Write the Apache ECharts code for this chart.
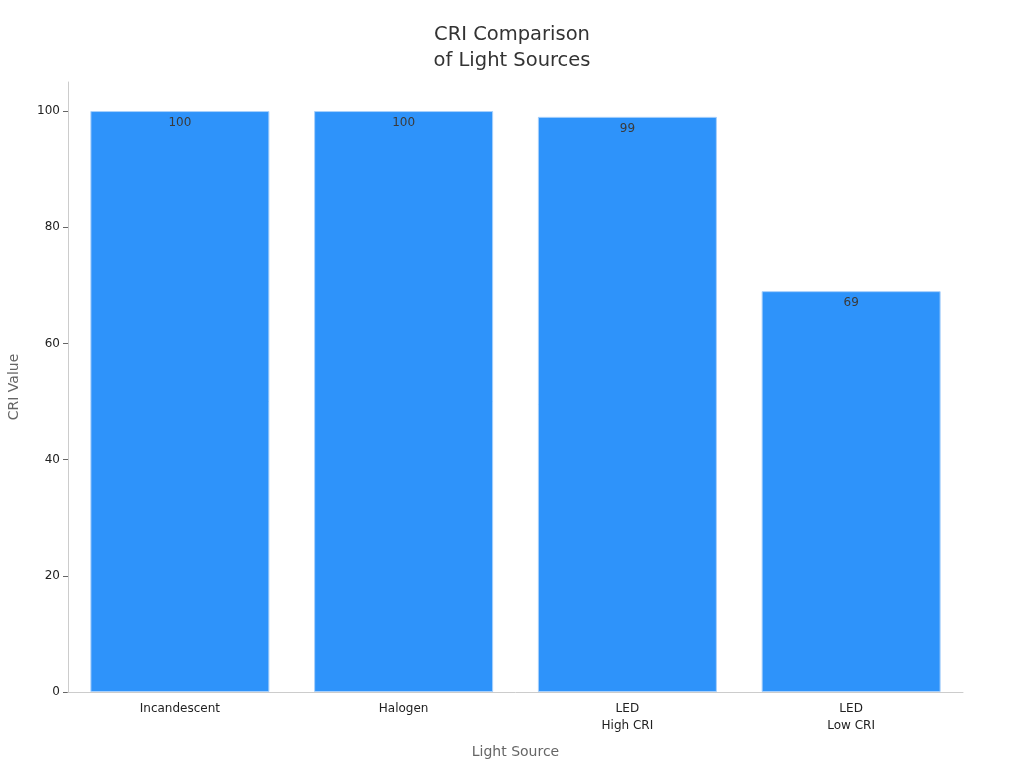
<!DOCTYPE html>
<html><head><meta charset="utf-8">
<script src="https://cdn.jsdelivr.net/npm/echarts@6/dist/echarts.min.js"></script>
<style>html,body{margin:0;padding:0;background:#fff}#c{width:1024px;height:768px}</style>
</head><body><div id="c"></div>
<script>
const categories = ['Incandescent', 'Halogen', 'LED\nHigh CRI', 'LED\nLow CRI'];
const criValues = [100, 100, 99, 69];
const yTicks = [0, 20, 40, 60, 80, 100];

const chart = echarts.init(document.getElementById('c'));
chart.setOption({
  backgroundColor: '#fff',
  textStyle: { fontFamily: 'DejaVu Sans' },
  title: {
    text: 'CRI Comparison\nof Light Sources',
    left: 'center', top: 17,
    textStyle: { fontSize: 19.5, fontWeight: 'normal', color: '#333', lineHeight: 26, fontFamily: 'DejaVu Sans' }
  },
  grid: { left: 68, right: 61, top: 82, bottom: 76, outerBoundsMode: 'none', containLabel: false },
  xAxis: {
    type: 'category', data: categories,
    name: 'Light Source', nameLocation: 'middle', nameGap: 53,
    nameTextStyle: { fontSize: 14, color: '#666' },
    axisLine: { lineStyle: { color: '#ccc' } },
    axisTick: { alignWithLabel: true, lineStyle: { color: '#999' } },
    axisLabel: { fontSize: 12, color: '#222', lineHeight: 17, margin: 8 },
    z: 10
  },
  yAxis: {
    type: 'value', min: 0, max: 105, interval: 20,
    name: 'CRI Value', nameLocation: 'middle', nameGap: 47, nameRotate: 90,
    nameTextStyle: { fontSize: 14, color: '#666' },
    splitLine: { show: false },
    axisLine: { show: true, lineStyle: { color: '#ccc' } },
    axisTick: { show: true, customValues: yTicks, lineStyle: { color: '#666' } },
    axisLabel: { fontSize: 12, color: '#222', customValues: yTicks }
  },
  series: [{
    type: 'bar', data: criValues, barCategoryGap: '20%',
    itemStyle: { color: '#2e93fa', borderColor: '#a8d0fb', borderWidth: 1 },
    label: { show: true, position: 'insideTop', distance: 6, fontSize: 12, color: '#3a3a3a' }
  }]
});
</script></body></html>
